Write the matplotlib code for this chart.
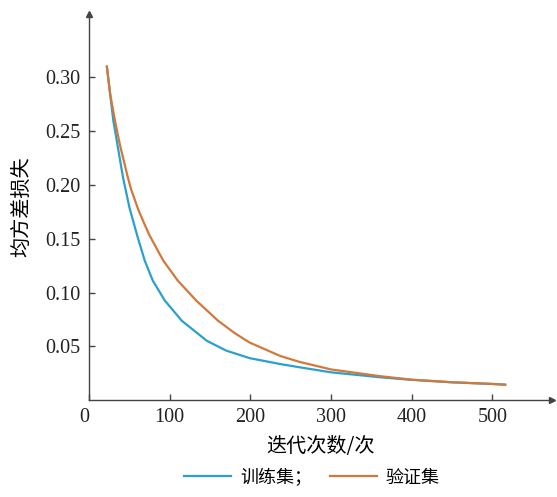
import numpy as np
import matplotlib
matplotlib.use('Agg')
import matplotlib.pyplot as plt

plt.rcParams['font.family'] = ['Liberation Serif', 'Noto Sans CJK SC', 'DejaVu Sans']

# values
train_iter = [22, 26, 30, 35, 42, 50, 60, 69, 79, 94, 115, 146, 170, 199, 237, 261, 300,
              361, 400, 450, 500, 516]
train_loss = [0.310, 0.285, 0.260, 0.238, 0.207, 0.179, 0.152, 0.1296, 0.111, 0.0924, 0.0737,
              0.0551, 0.046, 0.039, 0.0335, 0.0305, 0.0258, 0.0212, 0.0188, 0.0165, 0.0150, 0.0143]
val_iter = [22, 26, 32, 38, 48, 52, 61, 69, 75, 92, 110, 133, 160, 181, 199, 237, 261, 300,
            361, 400, 450, 500, 516]
val_loss = [0.310, 0.285, 0.260, 0.238, 0.207, 0.196, 0.177, 0.163, 0.153, 0.1296, 0.111, 0.0924,
            0.0737, 0.062, 0.0535, 0.041, 0.0355, 0.0285, 0.0222, 0.019, 0.0166, 0.0150, 0.0143]
labels = ['训练集；', '验证集']
xticks = [0, 100, 200, 300, 400, 500]
yticks = [0.05, 0.10, 0.15, 0.20, 0.25, 0.30]

cjk = ['Noto Sans CJK SC', 'DejaVu Sans']

fig = plt.figure(figsize=(5.57, 4.97), dpi=100)
ax = fig.add_axes([0.160, 0.195, 0.831, 0.777])

ax.plot(train_iter, train_loss, color='#2a9fd0', lw=1.6, label=labels[0])
ax.plot(val_iter, val_loss, color='#d2793a', lw=1.6, label=labels[1])

ax.set_xlim(0, 574)
ax.set_ylim(0, 0.359)
ax.spines['top'].set_visible(False)
ax.spines['right'].set_visible(False)
for s in ['left', 'bottom']:
    ax.spines[s].set_color('#444444')
    ax.spines[s].set_linewidth(1.0)
# arrow heads on the axes
ax.plot(1, 0, '>', color='#444444', ms=5, transform=ax.transAxes, clip_on=False)
ax.plot(0, 1, '^', color='#444444', ms=5, transform=ax.transAxes, clip_on=False)

ax.set_xticks(xticks)
ax.set_xticklabels([str(t) for t in xticks], family='Liberation Serif')
ax.get_xticklabels()[0].set_horizontalalignment('right')
ax.set_yticks(yticks)
ax.set_yticklabels(['%.2f' % t for t in yticks], family='Liberation Serif')
ax.tick_params(direction='in', length=4, width=1, colors='#444444', labelsize=14.5,
               labelcolor='#222222', pad=6)

ax.set_xlabel('迭代次数/次', fontsize=14.5, labelpad=6, family=cjk)
ax.set_ylabel('均方差损失', fontsize=14.5, labelpad=10, family=cjk)

fig.legend(loc='lower center', bbox_to_anchor=(0.56, -0.012), ncol=2, frameon=False,
           prop={'family': cjk, 'size': 13},
           handlelength=2.6, handletextpad=0.5, columnspacing=1.0)

fig.savefig('out.png', dpi=100)
